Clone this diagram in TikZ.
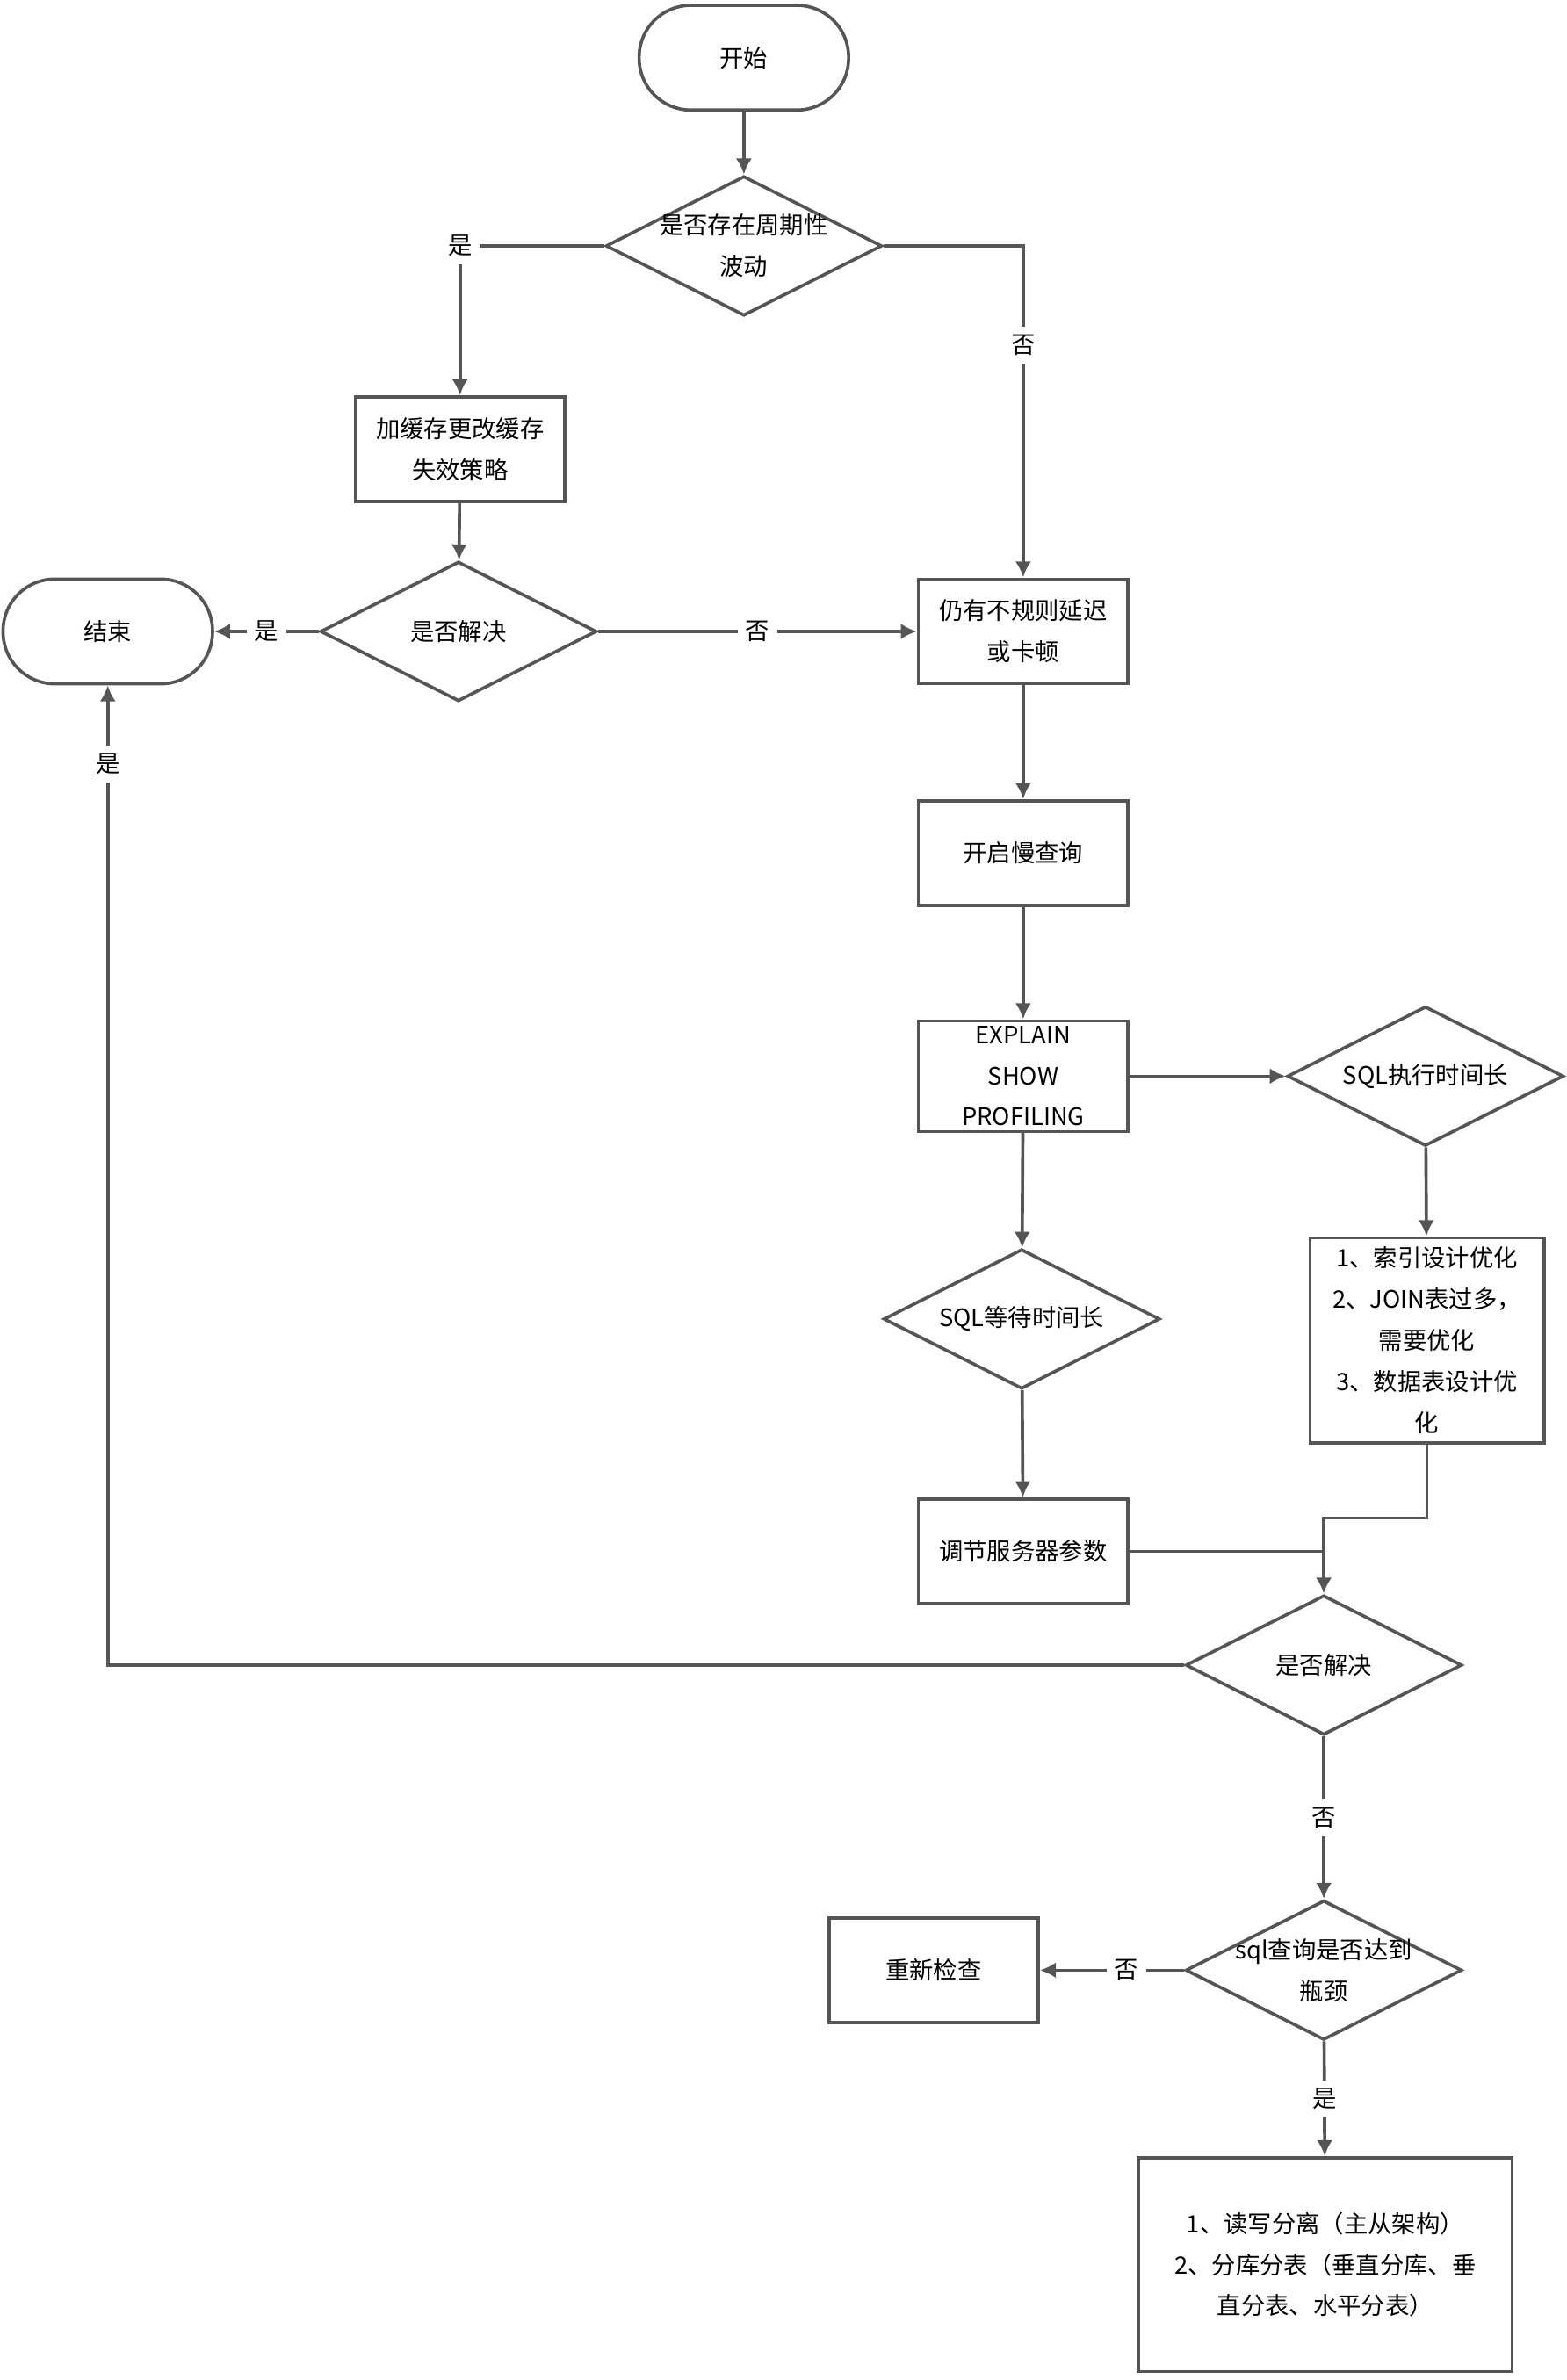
\documentclass[tikz,border=0pt]{standalone}
\usepackage{fontspec}
\setmainfont{Noto Sans CJK SC}
\usetikzlibrary{shapes.geometric,arrows.meta}
\definecolor{flowgray}{RGB}{85,85,85}

\begin{document}
\begin{tikzpicture}[x=0.02cm, y=-0.02cm, font=\fontsize{9}{15.4}\selectfont]
    % Define styles
    \tikzset{
        line/.style={draw=flowgray, line width=1.2pt},
        arr/.style={line, -{Latex[length=6pt,width=6pt]}},
        box/.style={rectangle, line, minimum width=2.76cm, minimum height=1.38cm, align=center, inner sep=2pt},
        term/.style={box, rounded corners=0.68cm},
        dec/.style={diamond, line, inner sep=0pt, minimum width=3.64cm, minimum height=1.84cm},
        lbl/.style={fill=white, inner sep=3pt}
    }
    \useasboundingbox (0,0) rectangle (1032,1568);

    % Components
    \node[term] (start) at (490,38) {开始};
    \node[dec, label={[align=center]center:是否存在周期性\\波动}] (cyc) at (490,162) {};
    \node[box] (cache) at (303,296) {加缓存更改缓存\\失效策略};
    \node[dec, label={center:是否解决}] (solved1) at (302,416) {};
    \node[term] (stop) at (71,416) {结束};
    \node[box] (irreg) at (674,416) {仍有不规则延迟\\或卡顿};
    \node[box] (slowlog) at (674,562) {开启慢查询};
    \node[box] (explain) at (674,709) {EXPLAIN\\SHOW\\PROFILING};
    \node[dec, label={center:SQL执行时间长}] (exec) at (939,709) {};
    \node[dec, label={center:SQL等待时间长}] (wait) at (673,869) {};
    \node[box, minimum width=3.08cm, minimum height=2.7cm] (optim) at (940,883) {1、索引设计优化\\2、JOIN表过多，\\需要优化\\3、数据表设计优\\化};
    \node[box] (tune) at (674,1022) {调节服务器参数};
    \node[dec, label={center:是否解决}] (solved2) at (872,1097) {};
    \node[dec, label={[align=center]center:sql查询是否达到\\瓶颈}] (bottle) at (872,1298) {};
    \node[box] (recheck) at (615,1298) {重新检查};
    \node[box, minimum width=4.92cm, minimum height=2.82cm] (split) at (873,1492) {1、读写分离（主从架构）\\2、分库分表（垂直分库、垂\\直分表、水平分表）};

    % Arrows
    \draw[arr] (start) -- (cyc);
    \draw[arr] (cyc.west) -| node[lbl, pos=0.5] {是} (cache);
    \draw[arr] (cyc.east) -| node[lbl, pos=0.65] {否} (irreg);
    \draw[arr] (cache) -- (solved1);
    \draw[arr] (solved1) -- node[lbl] {是} (stop);
    \draw[arr] (solved1) -- node[lbl] {否} (irreg);
    \draw[arr] (irreg) -- (slowlog);
    \draw[arr] (slowlog) -- (explain);
    \draw[arr] (explain) -- (exec);
    \draw[arr] (explain) -- (wait);
    \draw[arr] (exec) -- (optim);
    \draw[arr] (wait) -- (tune);
    \coordinate (join) at (872,1000);
    \draw[arr] (optim.south) |- (join) -- (solved2);
    \draw[line] (tune.east) -- (tune.east -| solved2);
    \draw[arr] (solved2.west) -| node[lbl, pos=0.96] {是} (stop.south);
    \draw[arr] (solved2) -- node[lbl] {否} (bottle);
    \draw[arr] (bottle) -- node[lbl, pos=0.4] {否} (recheck);
    \draw[arr] (bottle) -- node[lbl, pos=0.5] {是} (split);
\end{tikzpicture}
\end{document}
